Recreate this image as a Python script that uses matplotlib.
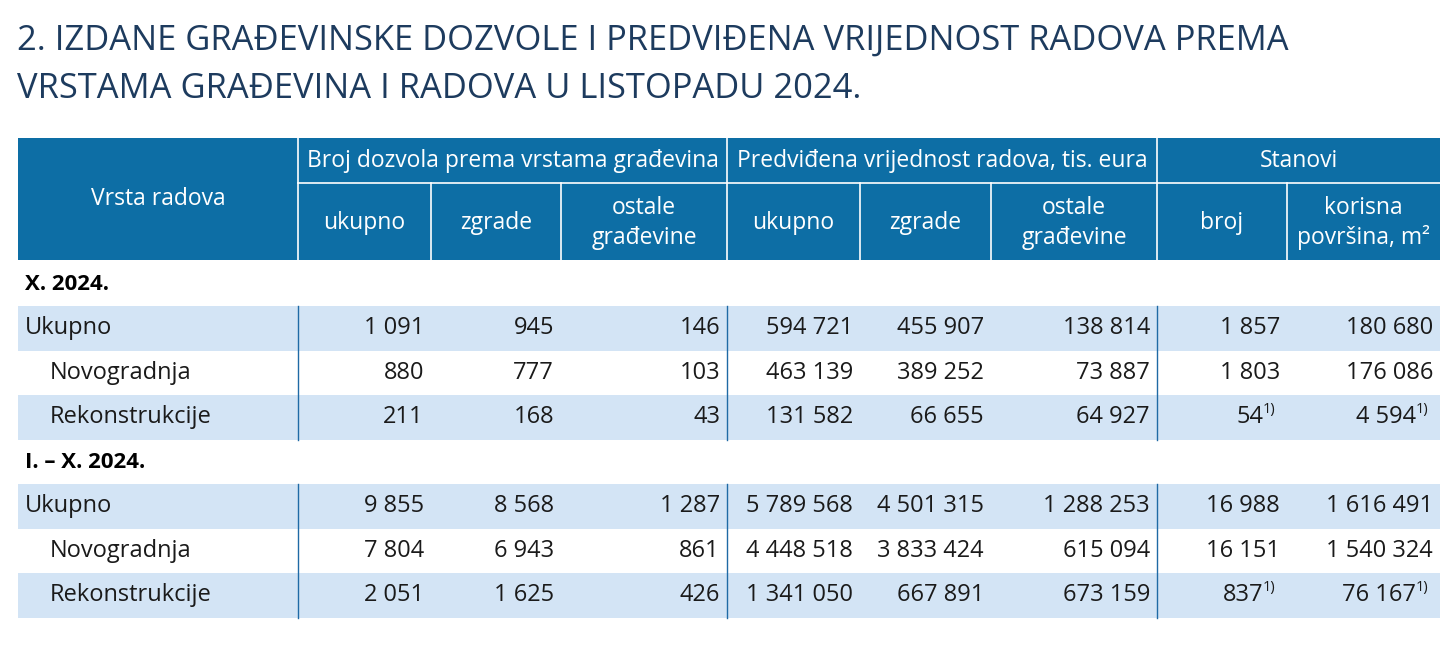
import matplotlib
matplotlib.use("Agg")
import matplotlib.pyplot as plt
from matplotlib.patches import Rectangle

plt.rcParams['font.family'] = ['Open Sans', 'DejaVu Sans']

# Table contents
title_lines = ["2. IZDANE GRAĐEVINSKE DOZVOLE I PREDVIĐENA VRIJEDNOST RADOVA PREMA",
               "VRSTAMA GRAĐEVINA I RADOVA U LISTOPADU 2024."]
group_headers = ["Broj dozvola prema vrstama građevina",
                 "Predviđena vrijednost radova, tis. eura",
                 "Stanovi"]
sub_headers = ["ukupno", "zgrade", "ostale\ngrađevine",
               "ukupno", "zgrade", "ostale\ngrađevine",
               "broj", "korisna\npovršina, m²"]
sections = ["X. 2024.", "I. – X. 2024."]
row_labels = ["Ukupno", "Novogradnja", "Rekonstrukcije"]

oct_2024 = [
    [1091, 945, 146, 594721, 455907, 138814, 1857, 180680],
    [880, 777, 103, 463139, 389252, 73887, 1803, 176086],
    [211, 168, 43, 131582, 66655, 64927, 54, 4594],
]
jan_oct_2024 = [
    [9855, 8568, 1287, 5789568, 4501315, 1288253, 16988, 1616491],
    [7804, 6943, 861, 4448518, 3833424, 615094, 16151, 1540324],
    [2051, 1625, 426, 1341050, 667891, 673159, 837, 76167],
]
# cells (row, col) with footnote 1)
footnotes = [(2, 6), (2, 7)]

# layout in pixels
W, H = 1455, 646
col_edges = [18, 298, 431, 561, 727, 860, 991, 1157, 1287, 1440]
group_spans = [(1, 4), (4, 7), (7, 9)]
head_top, head_mid, head_bot = 138, 183, 260
row_h = 44.5
section_y = [284, 462]
rows_top = [306, 484]

header_col = "#0d6ea5"
band_col = "#d3e4f5"
line_col = "#1f6aa5"
title_col = "#1d3b5e"
text_col = "#1a1a1a"


def fmt(v):
    return f"{v:,}".replace(",", " ")


fig = plt.figure(figsize=(W / 100, H / 100), dpi=100)
ax = fig.add_axes([0, 0, 1, 1])
ax.set_xlim(0, W)
ax.set_ylim(H, 0)
ax.axis("off")

# title
for i, line in enumerate(title_lines):
    ax.text(17, 41 + i * 48, line, fontsize=24.8, color=title_col,
            ha="left", va="center")

# header background
ax.add_patch(Rectangle((col_edges[0], head_top), col_edges[-1] - col_edges[0],
                       head_bot - head_top, color=header_col, lw=0))
ax.plot([col_edges[1], col_edges[-1]], [head_mid, head_mid], color="white", lw=1.2)
for x in col_edges[1:-1]:
    top = head_top if x in (col_edges[1], col_edges[4], col_edges[7]) else head_mid
    ax.plot([x, x], [top, head_bot], color="white", lw=1.2)

ax.text((col_edges[0] + col_edges[1]) / 2, 199, "Vrsta radova", color="white",
        fontsize=16.5, ha="center", va="center")
for (a, b), label in zip(group_spans, group_headers):
    ax.text((col_edges[a] + col_edges[b]) / 2, 161, label, color="white",
            fontsize=16.5, ha="center", va="center")
for j, label in enumerate(sub_headers):
    cx = (col_edges[j + 1] + col_edges[j + 2]) / 2
    ax.text(cx, 223, label, color="white", fontsize=16.5, ha="center", va="center",
            linespacing=1.3)

# body
for s, (name, data) in enumerate(zip(sections, [oct_2024, jan_oct_2024])):
    ax.text(25, section_y[s], name, fontsize=16, fontweight="bold", color="black",
            ha="left", va="center")
    top = rows_top[s]
    for r, (label, vals) in enumerate(zip(row_labels, data)):
        y0 = top + r * row_h
        yc = y0 + row_h / 2
        if r != 1:
            ax.add_patch(Rectangle((col_edges[0], y0), col_edges[-1] - col_edges[0],
                                   row_h, color=band_col, lw=0))
        ax.text(25 if r == 0 else 50, yc, label, fontsize=17, color=text_col,
                ha="left", va="center")
        for j, v in enumerate(vals):
            right = col_edges[j + 2] - 7
            if (r, j) in footnotes:
                ax.text(right - 17, yc, fmt(v), fontsize=17, color=text_col,
                        ha="right", va="center")
                ax.text(right - 17, yc - 8, "1)", fontsize=10.5, color=text_col,
                        ha="left", va="center")
            else:
                ax.text(right, yc, fmt(v), fontsize=17, color=text_col,
                        ha="right", va="center")
    for x in (col_edges[1], col_edges[4], col_edges[7]):
        ax.plot([x, x], [top, top + 3 * row_h], color=line_col, lw=1)

fig.savefig("out.png", dpi=100)
